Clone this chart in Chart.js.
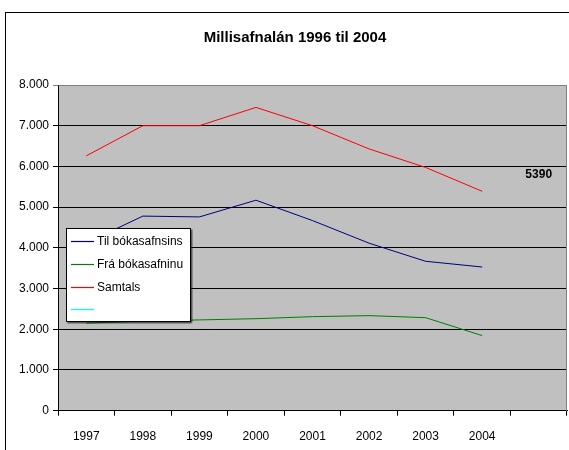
<!DOCTYPE html>
<html>
<head>
<meta charset="utf-8">
<script src="https://cdn.jsdelivr.net/npm/chart.js@4"></script>
<style>
html,body{margin:0;padding:0;background:#fff;overflow:hidden;}
#wrap{width:590px;height:450px;}
</style>
</head>
<body>
<div id="wrap"><canvas id="c" width="590" height="450"></canvas></div>
<script>
const titleText = 'Millisafnalán 1996 til 2004';
const categories = ['1997','1998','1999','2000','2001','2002','2003','2004',''];
const tilBokasafnsins = [4120, 4780, 4760, 5170, 4670, 4115, 3670, 3530];
const fraBokasafninu = [2150, 2200, 2230, 2260, 2310, 2335, 2285, 1845];
const samtals = [6260, 7000, 7000, 7450, 7000, 6430, 5975, 5390];
const emptySeries = [];
const seriesNames = ['Til bókasafnsins', 'Frá bókasafninu', 'Samtals', ''];
const seriesColors = ['#000080', '#008000', '#ff0000', '#00ffff'];
const noteText = '5390';
const noteCategory = 8;
const noteValue = 5800;

const FONT = 'Arial, "Liberation Sans", sans-serif';

const framePlugin = {
  id: 'frame',
  beforeDraw(chart) {
    const ctx = chart.ctx, a = chart.chartArea;
    ctx.save();
    ctx.fillStyle = '#fff';
    ctx.fillRect(0, 0, chart.width, chart.height);
    ctx.strokeStyle = '#000';
    ctx.lineWidth = 1;
    ctx.strokeRect(5.5, 12.5, chart.width, chart.height + 50);
    ctx.fillStyle = '#c0c0c0';
    ctx.fillRect(a.left, a.top, a.right - a.left, a.bottom - a.top);
    // title
    ctx.font = 'bold 15px ' + FONT;
    ctx.fillStyle = '#000';
    ctx.textAlign = 'center';
    ctx.textBaseline = 'middle';
    ctx.fillText(titleText, chart.width / 2, 38);
    ctx.restore();
  },
  beforeDatasetsDraw(chart) {
    const ctx = chart.ctx, a = chart.chartArea;
    ctx.save();
    ctx.strokeStyle = '#808080';
    ctx.lineWidth = 1;
    ctx.beginPath();
    ctx.moveTo(Math.round(a.left) + 0.5, Math.round(a.top) + 0.5);
    ctx.lineTo(Math.round(a.right) - 0.5, Math.round(a.top) + 0.5);
    ctx.lineTo(Math.round(a.right) - 0.5, Math.round(a.bottom));
    ctx.stroke();
    ctx.restore();
  },
  afterDatasetsDraw(chart) {
    const ctx = chart.ctx;
    const xs = chart.scales.x, ys = chart.scales.y;
    ctx.save();
    ctx.font = 'bold 12px ' + FONT;
    ctx.fillStyle = '#000';
    ctx.textAlign = 'center';
    ctx.textBaseline = 'middle';
    ctx.fillText(noteText, xs.getPixelForValue(noteCategory), ys.getPixelForValue(noteValue));
    // legend box
    const lx = 66.5, ly = 228.5, lw = 124, lh = 93;
    ctx.fillStyle = '#fff';
    ctx.fillRect(lx, ly, lw, lh);
    ctx.strokeStyle = '#000';
    ctx.lineWidth = 1;
    ctx.strokeRect(lx, ly, lw, lh);
    ctx.fillStyle = 'rgba(0,0,0,0.55)';
    ctx.fillRect(lx + 1, ly + lh + 0.5, lw, 1.5);
    ctx.fillRect(lx + lw + 0.5, ly + 1, 1.5, lh);
    ctx.font = '12px ' + FONT;
    ctx.textAlign = 'left';
    seriesNames.forEach((name, i) => {
      const cy = Math.round(241 + i * 22.8) + 0.5;
      ctx.beginPath();
      ctx.strokeStyle = seriesColors[i];
      ctx.lineWidth = 1.2;
      ctx.moveTo(71, cy);
      ctx.lineTo(94, cy);
      ctx.stroke();
      ctx.fillStyle = '#000';
      ctx.fillText(name, 97, cy);
    });
    ctx.restore();
  }
};

const datasets = [tilBokasafnsins, fraBokasafninu, samtals, emptySeries].map((d, i) => ({
  label: seriesNames[i],
  data: d,
  borderColor: seriesColors[i],
  backgroundColor: seriesColors[i],
  borderWidth: 1,
  pointRadius: 0,
  tension: 0,
  fill: false
}));

new Chart(document.getElementById('c'), {
  type: 'line',
  data: { labels: categories, datasets },
  plugins: [framePlugin],
  options: {
    responsive: false,
    devicePixelRatio: 1,
    animation: false,
    layout: { padding: { left: 0, right: 23, top: 85, bottom: 0 } },
    plugins: {
      legend: { display: false },
      tooltip: { enabled: false },
      title: { display: false }
    },
    scales: {
      x: {
        offset: true,
        grid: { offset: true, drawOnChartArea: false, drawTicks: true, tickLength: 5, color: '#000' },
        border: { display: true, color: '#000' },
        ticks: { color: '#000', font: { family: FONT, size: 12 }, padding: 14, maxRotation: 0, autoSkip: false },
        afterFit(s) { s.height = 39.3; }
      },
      y: {
        min: 0, max: 8000,
        grid: {
          color: (c) => (c.tick && c.tick.value === 8000) ? '#808080' : '#000',
          tickLength: 5,
          drawTicks: true
        },
        border: { display: true, color: '#000' },
        ticks: {
          stepSize: 1000,
          color: '#000',
          padding: 4,
          font: { family: FONT, size: 12 },
          callback: (v) => v === 0 ? '0' : (v / 1000).toFixed(3)
        },
        afterFit(s) { s.width = 58; }
      }
    }
  }
});
</script>
</body>
</html>
